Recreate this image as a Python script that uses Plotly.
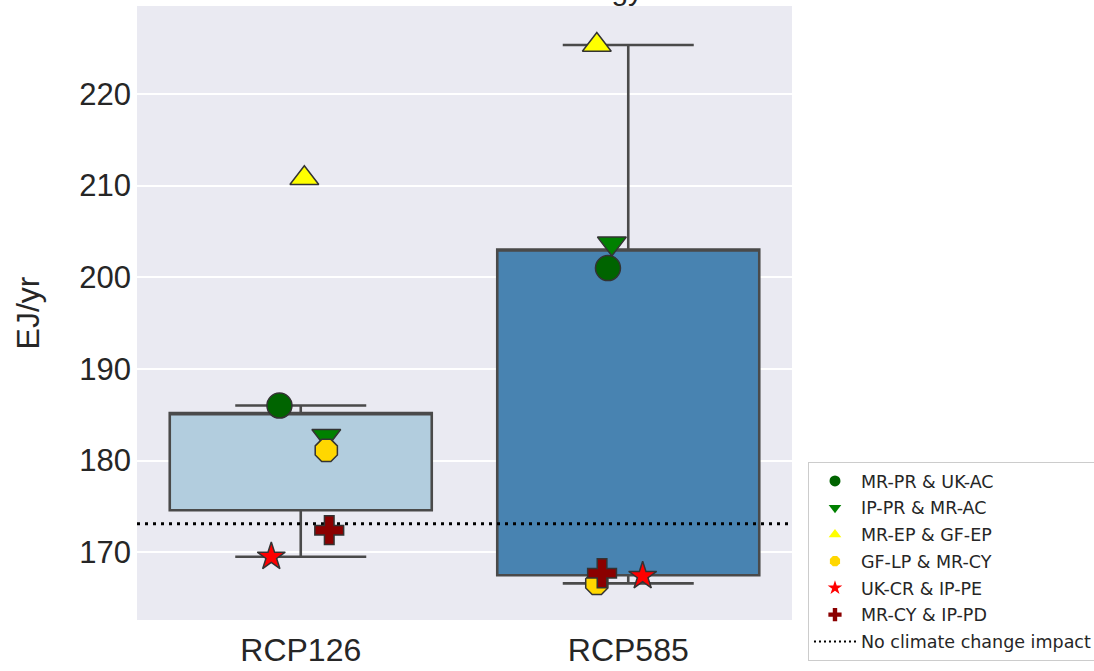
import numpy as np
import plotly.graph_objects as go

# ---------------- data ----------------
scenarios = ["RCP126", "RCP585"]
combos = ["MR-PR & UK-AC", "IP-PR & MR-AC", "MR-EP & GF-EP",
          "GF-LP & MR-CY", "UK-CR & IP-PE", "MR-CY & IP-PD"]
rcp126_values = [186.0, 182.7, 210.8, 181.1, 169.5, 172.4]
rcp585_values = [201.0, 203.7, 225.35, 166.6, 167.4, 167.7]
baseline_value = 173.1
baseline_label = "No climate change impact"
y_ticks = [170, 180, 190, 200, 210, 220]
title_text = "Final energy"

# ---------------- styles ----------------
symbols = ["circle", "triangle-down", "triangle-up", "octagon", "star", "cross"]
colors = ["#006400", "#008000", "#FFFF00", "#FFD700", "#FF0000", "#8B0000"]
sizes = [25, 25, 25, 24, 21, 24]
jitter = {
    0: [-0.065, 0.078, 0.011, 0.078, -0.09, 0.087],
    1: [-0.062, -0.05, -0.096, -0.096, 0.044, -0.08],
}
box_fill = ["#B2CDDE", "#4883B1"]
box_line = "#4A4A4A"

series = [rcp126_values, rcp585_values]


def box_stats(vals):
    v = np.asarray(vals, dtype=float)
    q1, q3 = np.percentile(v, [25, 75])
    iqr = q3 - q1
    lo = v[v >= q1 - 1.5 * iqr].min()
    hi = v[v <= q3 + 1.5 * iqr].max()
    return q1, q3, lo, hi


fig = go.Figure()

# boxes (median line hidden on the box edge, as in the reference)
for i, vals in enumerate(series):
    q1, q3, lo, hi = box_stats(vals)
    fig.add_trace(go.Box(
        x=[i], q1=[q1], median=[q3], q3=[q3], lowerfence=[lo], upperfence=[hi],
        width=0.8, whiskerwidth=0.5, fillcolor=box_fill[i],
        line=dict(color=box_line, width=2.6), showlegend=False,
        hoverinfo="skip", boxpoints=False,
    ))

# baseline
fig.add_trace(go.Scatter(
    x=[-0.5, 1.5], y=[baseline_value, baseline_value], mode="lines",
    line=dict(color="black", width=3, dash="3px,5px"),
    showlegend=False, hoverinfo="skip",
))

# markers
for k, name in enumerate(combos):
    xs = [i + jitter[i][k] for i in range(len(scenarios))]
    ys = [series[i][k] for i in range(len(scenarios))]
    fig.add_trace(go.Scatter(
        x=xs, y=ys, mode="markers", name=name, showlegend=False,
        marker=dict(symbol=symbols[k], color=colors[k], size=sizes[k],
                    line=dict(color="#333333", width=1.5)),
    ))

# legend entries
for k, name in enumerate(combos):
    fig.add_trace(go.Scatter(
        x=[None], y=[None], mode="markers", name=name, legendgroup=f"g{k}",
        marker=dict(symbol=symbols[k], color=colors[k], size=11),
    ))
fig.add_trace(go.Scatter(
    x=[None], y=[None], mode="lines", name=baseline_label, legendgroup="gb",
    line=dict(color="black", width=2, dash="2px,3px"),
))

# title (cut off at the top edge, as in the reference)
fig.add_annotation(
    text=title_text, xref="paper", yref="paper", x=0.775, y=0.9967,
    xanchor="right", yanchor="bottom", showarrow=False,
    font=dict(family="Liberation Sans, Arial, sans-serif", size=30, color="#262626"),
)

fig.update_layout(
    width=1094, height=671,
    margin=dict(l=137, r=302, t=6, b=51, autoexpand=False),
    paper_bgcolor="white", plot_bgcolor="#EAEAF2",
    font=dict(family="Liberation Sans, Arial, sans-serif", size=28, color="#262626"),
    xaxis=dict(range=[-0.5, 1.5], tickvals=[0, 1], ticktext=scenarios,
               showgrid=False, zeroline=False, ticks="", showline=False,
               tickfont=dict(size=32), ticklabelstandoff=8),
    yaxis=dict(range=[162.6, 229.6], tickvals=y_ticks, gridcolor="white",
               gridwidth=1.5, zeroline=False, ticks="", showline=False,
               tickfont=dict(size=31), ticklabelstandoff=5,
               title=dict(text="EJ/yr", font=dict(size=32), standoff=30)),
    legend=dict(x=1.0244, y=-0.0668, xanchor="left", yanchor="bottom",
                bgcolor="white", bordercolor="#CCCCCC", borderwidth=1,
                font=dict(family="DejaVu Sans, sans-serif", size=17.5, color="#262626"),
                tracegroupgap=1, itemwidth=42),
    showlegend=True,
)

fig.write_html("out.html")
